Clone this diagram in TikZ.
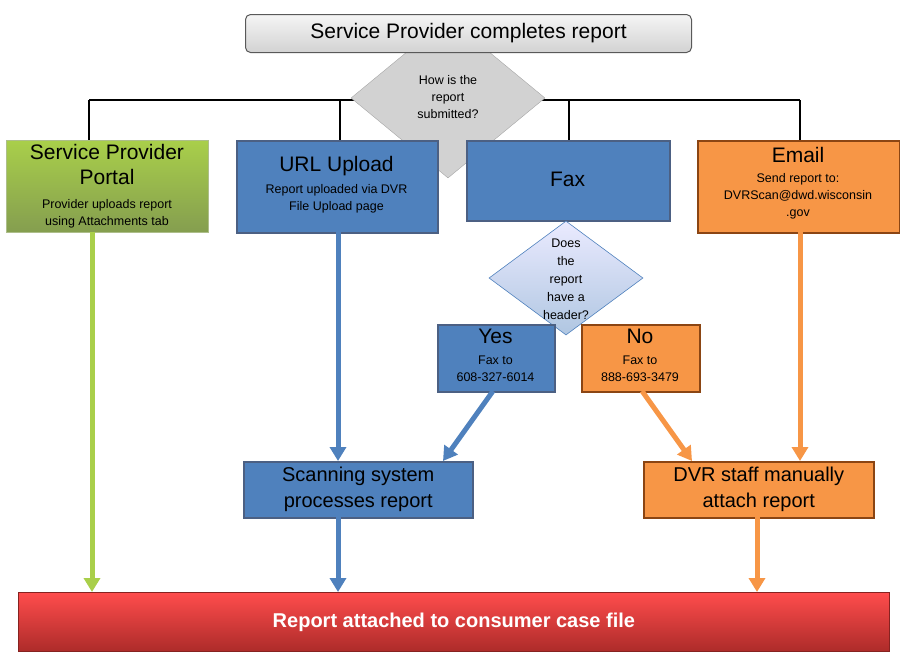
\documentclass[tikz,border=0pt]{standalone}
\usepackage{fontspec}
\setmainfont{Liberation Sans}
\usetikzlibrary{shapes.geometric,arrows.meta}
\definecolor{bl}{HTML}{4F81BD}\definecolor{bld}{HTML}{1F3864}
\definecolor{or}{HTML}{F79646}\definecolor{ord}{HTML}{8B4513}
\definecolor{gr}{HTML}{9BBB59}\definecolor{grl}{HTML}{A9CF4A}\definecolor{grd}{HTML}{77933C}
\definecolor{rd}{HTML}{C0302E}
\tikzset{
 box/.style={draw, line width=1.5pt, inner sep=0pt, anchor=north west, align=center},
 blue/.style={box, fill=bl, draw=bld!80},
 orng/.style={box, fill=or, draw=ord},
 big/.style={font=\fontsize{21}{25}\selectfont, align=center},
 sm/.style={font=\fontsize{12.5}{17}\selectfont, align=center},
 arr/.style={line width=5pt, -{Triangle[width=16pt,length=14pt]}},
 con/.style={line width=1.5pt},
}
\begin{document}
\begin{tikzpicture}[x=1pt,y=-1pt]
\useasboundingbox (0,0) rectangle (900,662);
% connectors
\coordinate (hl) at (89,100); \coordinate (hr) at (800,100);
\draw[con] (hl) -- (hr);
\foreach \x in {89,340,569,800} \draw[con] (\x,100) -- (\x,140);
% diamond 1
\node[diamond, draw=gray!70, fill=gray!35, minimum width=194pt, minimum height=160pt, inner sep=0pt, aspect=1.2] (d1) at (448,98) {};
\node[sm] (d1t) at (448,97) {How is the\\report\\submitted?};
% top box
\node[box, draw=gray!70!black, line width=1pt, rounded corners=5pt, top color=gray!8, bottom color=gray!35, minimum width=446pt, minimum height=38pt, font=\fontsize{21}{25}\selectfont] (top) at (245,14) {Service Provider completes report};
% second row
\node[box, draw=grd!60, line width=0.5pt, top color=grl, bottom color=grd!90, minimum width=202pt, minimum height=92pt] (spp) at (6,140) {};
\node[big, anchor=north] (sppt) at (107,141) {Service Provider\\Portal};
\node[sm, anchor=north] (spps) at (107,196) {Provider uploads report\\using Attachments tab};
\node[blue, minimum width=201pt, minimum height=92pt] (url) at (236,140) {};
\node[big, anchor=north] (urlt) at (336.5,153) {URL Upload};
\node[sm, anchor=north] (urls) at (336.5,181) {Report uploaded via DVR\\File Upload page};
\node[blue, minimum width=203pt, minimum height=80pt] (fax) at (466,140) {};
\node[big] (faxt) at (567.5,179) {Fax};
\node[orng, minimum width=202pt, minimum height=92pt] (em) at (697,140) {};
\node[big, anchor=north] (emt) at (798,144) {Email};
\node[sm, anchor=north] (ems) at (798,170) {Send report to:\\DVRScan@dwd.wisconsin\\.gov};
% diamond 2
\node[diamond, draw=bl, line width=0.6pt, top color=blue!8, bottom color=bl!45, minimum width=154pt, minimum height=114pt, inner sep=0pt, aspect=1.35] (d2) at (566,278) {};
\node[sm, font=\fontsize{12.5}{18}\selectfont] (d2t) at (566,279) {Does\\the\\report\\have a\\header?};
% yes/no
\node[blue, minimum width=117pt, minimum height=67pt] (yes) at (437,324) {};
\node[big, anchor=north] (yest) at (495.5,326) {Yes};
\node[sm, anchor=north] (yess) at (495.5,352) {Fax to\\608-327-6014};
\node[orng, minimum width=118pt, minimum height=67pt] (no) at (581,324) {};
\node[big, anchor=north] (not) at (640,326) {No};
\node[sm, anchor=north] (nos) at (640,352) {Fax to\\888-693-3479};
% process boxes
\node[blue, minimum width=229pt, minimum height=56pt, font=\fontsize{20}{26}\selectfont] (scan) at (243,461) {Scanning system\\processes report};
\node[orng, minimum width=230pt, minimum height=56pt, font=\fontsize{20}{26}\selectfont] (dvr) at (643,461) {DVR staff manually\\attach report};
% final
\node[box, draw=rd!70!black, line width=0.8pt, top color=red!70!white, bottom color=rd!90!black, minimum width=871pt, minimum height=59pt, text=white, font=\bfseries\fontsize{20}{24}\selectfont] (fin) at (18,592) {Report attached to consumer case file};
% arrows
\draw[arr, draw=grl, fill=grl] (92,232) -- (92,592);
\draw[arr, draw=bl] (338,232) -- (338,461);
\draw[arr, draw=bl] (493,391) -- (443,461);
\draw[arr, draw=or] (642,391) -- (692,461);
\draw[arr, draw=or] (800,232) -- (800,461);
\draw[arr, draw=bl] (338,517) -- (338,592);
\draw[arr, draw=or] (757,517) -- (757,592);
\end{tikzpicture}
\end{document}
